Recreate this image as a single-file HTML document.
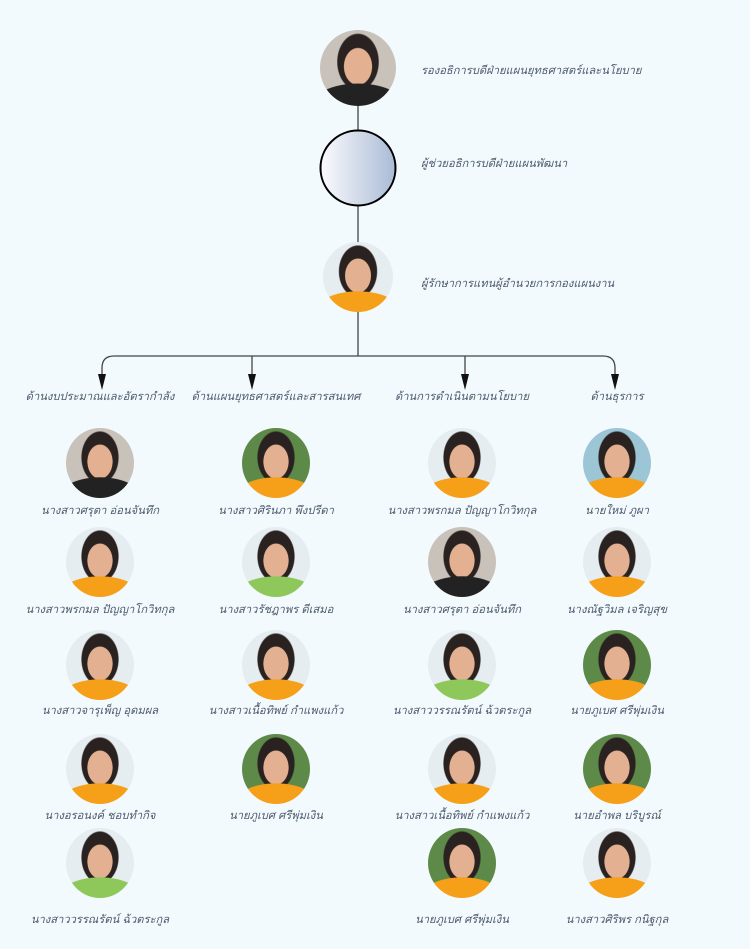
<!DOCTYPE html>
<html><head><meta charset="utf-8"><style>
body{margin:0;width:750px;height:949px;background:#f3fafd;position:relative;overflow:hidden;font-family:"Liberation Sans","Noto Sans CJK SC",sans-serif;}
.t{position:absolute;font-style:italic;color:#4d5a6e;font-size:11.2px;white-space:nowrap;transform:translateX(-50%);line-height:16px}
.l{position:absolute;font-style:italic;color:#4d5a6e;font-size:11.2px;white-space:nowrap;line-height:16px}
.p{position:absolute;width:68px;height:70px;border-radius:50%;margin-left:-34px;
background:
radial-gradient(ellipse 62% 30% at 50% 100%,var(--s) 97%,transparent 100%),
radial-gradient(ellipse 19% 25% at 50% 48%,#e3b192 95%,transparent 100%),
radial-gradient(ellipse 28% 38% at 50% 42%,var(--h,#2a2220) 95%,transparent 100%),
var(--b);}
.o{--s:#f5a018}.g{--s:#8ec85a}.k{--s:#222}
.G{--b:#5d8a48}.W{--b:#e6edf0}.Y{--b:#c9c2ba}.B{--b:#9cc6d6}
</style></head><body>
<svg width="750" height="949" style="position:absolute;left:0;top:0">
<g stroke="#444" stroke-width="1.3" fill="none">
<line x1="358" y1="105" x2="358" y2="131"/>
<line x1="358" y1="206" x2="358" y2="243"/>
<line x1="358" y1="311" x2="358" y2="356"/>
<path d="M102,376 V368 Q102,356 114,356 H603 Q615,356 615,368 V376"/>
<line x1="252" y1="356" x2="252" y2="376"/>
<line x1="465" y1="356" x2="465" y2="376"/>
</g>
<g fill="#111">
<path d="M98,374 H106 L102,390z"/>
<path d="M248,374 H256 L252,390z"/>
<path d="M461,374 H469 L465,390z"/>
<path d="M611,374 H619 L615,390z"/>
</g>
<defs><linearGradient id="c"><stop offset="0" stop-color="#fbfbfd"/><stop offset="1" stop-color="#aabbd6"/></linearGradient></defs>
<circle cx="358" cy="168" r="37.5" fill="url(#c)" stroke="#000" stroke-width="2"/>
</svg>
<div class="p k Y" style="left:358px;top:30px;width:76px;height:76px;margin-left:-38px"></div>
<div class="p o W" style="left:358px;top:242px;width:70px;height:70px;margin-left:-35px"></div>
<div class="l" style="left:421px;top:63px">รองอธิการบดีฝ่ายแผนยุทธศาสตร์และนโยบาย</div>
<div class="l" style="left:421px;top:156px">ผู้ช่วยอธิการบดีฝ่ายแผนพัฒนา</div>
<div class="l" style="left:421px;top:276px">ผู้รักษาการแทนผู้อำนวยการกองแผนงาน</div>

<div class="t" style="left:100px;top:389px">ด้านงบประมาณและอัตรากำลัง</div>
<div class="t" style="left:276px;top:389px">ด้านแผนยุทธศาสตร์และสารสนเทศ</div>
<div class="t" style="left:462px;top:389px">ด้านการดำเนินตามนโยบาย</div>
<div class="t" style="left:617px;top:389px">ด้านธุรการ</div>

<div class="p k Y" style="left:100px;top:428px"></div><div class="t" style="left:100px;top:503px">นางสาวศรุตา อ่อนจันทึก</div>
<div class="p o W" style="left:100px;top:527px"></div><div class="t" style="left:100px;top:602px">นางสาวพรกมล ปัญญาโกวิทกุล</div>
<div class="p o W" style="left:100px;top:630px"></div><div class="t" style="left:100px;top:703px">นางสาวจารุเพ็ญ อุดมผล</div>
<div class="p o W" style="left:100px;top:734px"></div><div class="t" style="left:100px;top:808px">นางอรอนงค์ ชอบทำกิจ</div>
<div class="p g W" style="left:100px;top:828px"></div><div class="t" style="left:100px;top:912px">นางสาววรรณรัตน์ ฉ้วตระกูล</div>

<div class="p o G" style="left:276px;top:428px"></div><div class="t" style="left:276px;top:503px">นางสาวศิรินภา พึงปรีดา</div>
<div class="p g W" style="left:276px;top:527px"></div><div class="t" style="left:276px;top:602px">นางสาวรัชฎาพร ดีเสมอ</div>
<div class="p o W" style="left:276px;top:630px"></div><div class="t" style="left:276px;top:703px">นางสาวเนื้อทิพย์ กำแพงแก้ว</div>
<div class="p o G" style="left:276px;top:734px"></div><div class="t" style="left:276px;top:808px">นายภูเบศ ศรีพุ่มเงิน</div>

<div class="p o W" style="left:462px;top:428px"></div><div class="t" style="left:462px;top:503px">นางสาวพรกมล ปัญญาโกวิทกุล</div>
<div class="p k Y" style="left:462px;top:527px"></div><div class="t" style="left:462px;top:602px">นางสาวศรุตา อ่อนจันทึก</div>
<div class="p g W" style="left:462px;top:630px"></div><div class="t" style="left:462px;top:703px">นางสาววรรณรัตน์ ฉ้วตระกูล</div>
<div class="p o W" style="left:462px;top:734px"></div><div class="t" style="left:462px;top:808px">นางสาวเนื้อทิพย์ กำแพงแก้ว</div>
<div class="p o G" style="left:462px;top:828px"></div><div class="t" style="left:462px;top:912px">นายภูเบศ ศรีพุ่มเงิน</div>

<div class="p o B" style="left:617px;top:428px"></div><div class="t" style="left:617px;top:503px">นายใหม่ ภูผา</div>
<div class="p o W" style="left:617px;top:527px"></div><div class="t" style="left:617px;top:602px">นางณัฐวิมล เจริญสุข</div>
<div class="p o G" style="left:617px;top:630px"></div><div class="t" style="left:617px;top:703px">นายภูเบศ ศรีพุ่มเงิน</div>
<div class="p o G" style="left:617px;top:734px"></div><div class="t" style="left:617px;top:808px">นายอำพล บริบูรณ์</div>
<div class="p o W" style="left:617px;top:828px"></div><div class="t" style="left:617px;top:912px">นางสาวศิริพร กนิฐกุล</div>
</body></html>
